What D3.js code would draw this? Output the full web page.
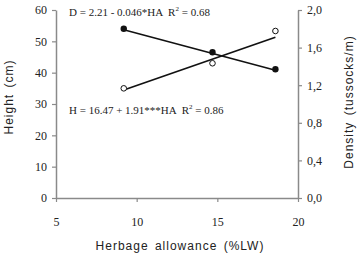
<!DOCTYPE html>
<html>
<head>
<meta charset="utf-8">
<script src="https://cdn.jsdelivr.net/npm/d3@7"></script>
<style>
  body { margin: 0; background: #fff; }
  svg { display: block; }
</style>
</head>
<body>
<svg id="chart"></svg>
<script>
// Chart data
const herbage = [9.2, 14.7, 18.6];
const heightVals = [35, 43, 53.3];
const densityVals = [1.8, 1.55, 1.37];
// fitted lines, read at the first and last point
const heightFit = [34.5, 51.3];
const densityFit = [1.79, 1.36];
const xTicks = [5, 10, 15, 20];
const hTicks = [0, 10, 20, 30, 40, 50, 60];
const dTicks = [0, 0.4, 0.8, 1.2, 1.6, 2.0];

const width = 359;
const height = 255;
const margin = { top: 10, right: 61, bottom: 57, left: 56 };

const svg = d3.select("#chart")
  .attr("width", width)
  .attr("height", height);

const x = d3.scaleLinear()
  .domain([5, 20])
  .range([margin.left, width - margin.right]);

const yH = d3.scaleLinear()
  .domain([0, 60])
  .range([height - margin.bottom, margin.top]);

const yD = d3.scaleLinear()
  .domain([0, 2])
  .range([height - margin.bottom, margin.top]);

const axisColor = "#8a8a8a";
const serif = "'Liberation Serif', 'Times New Roman', serif";
const sans = "'Liberation Sans', Arial, sans-serif";

function styleAxis(g) {
  g.selectAll(".domain").attr("stroke", axisColor).attr("stroke-width", 1.5);
  g.selectAll(".tick line").attr("stroke", axisColor).attr("stroke-width", 1.2);
  g.selectAll(".tick text")
    .attr("fill", "#222")
    .style("font-family", serif)
    .style("font-size", "12px");
}

// x axis
svg.append("g")
  .attr("transform", `translate(0,${height - margin.bottom})`)
  .call(d3.axisBottom(x).tickValues(xTicks).tickSize(4).tickSizeOuter(0).tickPadding(15))
  .call(styleAxis);

// left axis
svg.append("g")
  .attr("transform", `translate(${margin.left},0)`)
  .call(d3.axisLeft(yH).tickValues(hTicks).tickSize(4).tickSizeOuter(0).tickPadding(5))
  .call(styleAxis);

// right axis
svg.append("g")
  .attr("transform", `translate(${width - margin.right},0)`)
  .call(d3.axisRight(yD).tickValues(dTicks).tickSize(4).tickSizeOuter(0).tickPadding(5)
    .tickFormat(d => d3.format(".1f")(d).replace(".", ",")))
  .call(styleAxis);

// fitted lines
const ends = [herbage[0], herbage[herbage.length - 1]];

svg.append("line")
  .attr("x1", x(ends[0])).attr("y1", yH(heightFit[0]))
  .attr("x2", x(ends[1])).attr("y2", yH(heightFit[1]))
  .attr("stroke", "#111").attr("stroke-width", 1.6);

svg.append("line")
  .attr("x1", x(ends[0])).attr("y1", yD(densityFit[0]))
  .attr("x2", x(ends[1])).attr("y2", yD(densityFit[1]))
  .attr("stroke", "#111").attr("stroke-width", 1.6);

// height points (open)
svg.selectAll(".hpt")
  .data(herbage)
  .enter().append("circle")
  .attr("class", "hpt")
  .attr("cx", d => x(d))
  .attr("cy", (d, i) => yH(heightVals[i]))
  .attr("r", 2.8)
  .attr("fill", "#fff")
  .attr("stroke", "#111")
  .attr("stroke-width", 1);

// density points (filled)
svg.selectAll(".dpt")
  .data(herbage)
  .enter().append("circle")
  .attr("class", "dpt")
  .attr("cx", d => x(d))
  .attr("cy", (d, i) => yD(densityVals[i]))
  .attr("r", 3.2)
  .attr("fill", "#111");

// equations
function equation(xp, yp, main, r2) {
  const t = svg.append("text")
    .attr("x", xp).attr("y", yp)
    .attr("fill", "#222")
    .style("font-family", serif)
    .style("font-size", "11px")
    .attr("xml:space", "preserve");
  t.append("tspan").text(main + "  R");
  t.append("tspan").attr("dy", -5).style("font-size", "7px").text("2");
  t.append("tspan").attr("dy", 5).text(" = " + r2);
}
equation(69, 16, "D = 2.21 - 0.046*HA", "0.68");
equation(69, 114, "H = 16.47 + 1.91***HA", "0.86");

// axis titles
svg.append("text")
  .attr("x", 180).attr("y", 250)
  .attr("text-anchor", "middle")
  .attr("fill", "#222")
  .style("font-family", sans)
  .style("font-size", "12px")
  .style("letter-spacing", "1px")
  .style("word-spacing", "2px")
  .text("Herbage allowance (%LW)");

svg.append("text")
  .attr("transform", "translate(13,97) rotate(-90)")
  .attr("text-anchor", "middle")
  .attr("fill", "#222")
  .style("font-family", sans)
  .style("font-size", "12px")
  .style("letter-spacing", "1px")
  .style("word-spacing", "2px")
  .text("Height (cm)");

svg.append("text")
  .attr("transform", "translate(353,102) rotate(-90)")
  .attr("text-anchor", "middle")
  .attr("fill", "#222")
  .style("font-family", sans)
  .style("font-size", "12px")
  .style("letter-spacing", "1px")
  .style("word-spacing", "2px")
  .text("Density (tussocks/m)");
</script>
</body>
</html>
